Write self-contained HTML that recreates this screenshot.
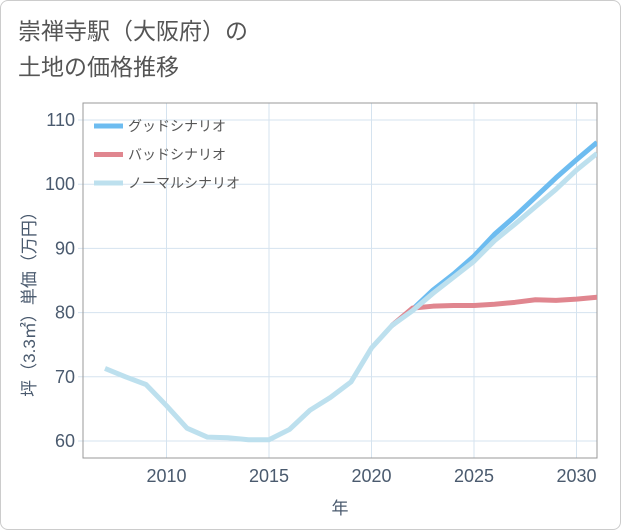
<!DOCTYPE html>
<html><head><meta charset="utf-8"><style>
body{margin:0;background:#fff;font-family:"Liberation Sans","Noto Sans CJK JP",sans-serif}
#card{position:absolute;left:0;top:0;width:619px;height:528px;border:1px solid #ccc;border-radius:8px;background:#fff}
#title{position:absolute;left:18px;top:13px;font-size:23px;line-height:36px;color:#555}
</style></head><body>
<div id="card"></div>
<div id="title">崇禅寺駅（大阪府）の<br>土地の価格推移</div>
<svg id="chart" width="621" height="530" style="position:absolute;left:0;top:0"></svg>
<script>
const years=[2007,2008,2009,2010,2011,2012,2013,2014,2015,2016,2017,2018,2019,2020,2021,2022,2023,2024,2025,2026,2027,2028,2029,2030,2031];
const normal=[71.3,70,68.8,65.5,62,60.6,60.5,60.2,60.2,61.8,64.8,66.8,69.2,74.5,78,80.3,83,85.5,88,91.2,93.8,96.5,99.2,102.2,104.8];
const goodYears=[2021,2022,2023,2024,2025,2026,2027,2028,2029,2030,2031];
const good=[78,80.5,83.5,86,88.8,92.2,95,98,101,103.8,106.5];
const bad=[78,80.7,81,81.1,81.1,81.3,81.6,82,81.9,82.1,82.4];
const xTicks=[2010,2015,2020,2025,2030];
const yTicks=[60,70,80,90,100,110];
const L=83,R=597,T=103,B=458;
const x=v=>166.5+(v-2010)*20.5;
const y=v=>441-(v-60)*6.42;
const svg=document.getElementById('chart');
const NS='http://www.w3.org/2000/svg';
function mk(t,a,p){const e=document.createElementNS(NS,t);for(const k in a)e.setAttribute(k,a[k]);(p||svg).appendChild(e);return e;}
xTicks.forEach(t=>{const l=mk('line',{x1:x(t),x2:x(t),y1:T,y2:B,stroke:'#d5e3ef'});

const tx=mk('text',{x:x(t),y:B+24,'text-anchor':'middle','font-size':18,fill:'#4a5a6e'});tx.textContent=t;
});
yTicks.forEach(t=>{const l=mk('line',{x1:L-5,x2:R,y1:y(t),y2:y(t),stroke:'#d5e3ef'});

const tx=mk('text',{x:L-8,y:y(t)+6,'text-anchor':'end','font-size':18,fill:'#4a5a6e'});tx.textContent=t;
});
const fr=mk('rect',{x:L,y:T,width:R-L,height:B-T,fill:'none',stroke:'#999'});

const cp=mk('clipPath',{id:'cp'});mk('rect',{x:L,y:T,width:R-L,height:B-T},cp);
const g=mk('g',{'clip-path':'url(#cp)'});
function line2(xs,vs,c,n){const p=mk('polyline',{points:xs.map((v,i)=>x(v)+','+y(vs[i])).join(' '),fill:'none',stroke:c,'stroke-width':5,'stroke-linejoin':'round'},g);
}
line2(goodYears,good,'#6dbcf0','good-scenario-line');
line2(goodYears,bad,'#e0868f','bad-scenario-line');
line2(years,normal,'#bde0ee','normal-scenario-line');
const leg=[['グッドシナリオ','#6dbcf0'],['バッドシナリオ','#e0868f'],['ノーマルシナリオ','#bde0ee']];
leg.forEach((d,i)=>{const yy=126+i*28.5;
const s=mk('line',{x1:94,x2:123,y1:yy,y2:yy,stroke:d[1],'stroke-width':5});

const t=mk('text',{x:128,y:yy+5,'font-size':14,fill:'#555'});t.textContent=d[0];
});
const xt=mk('text',{x:340,y:514,'text-anchor':'middle','font-size':17,fill:'#4a5a6e'});xt.textContent='年';

const yt=mk('text',{x:0,y:0,'text-anchor':'middle','font-size':17,fill:'#4a5a6e',transform:'translate(35,300) rotate(-90)'});yt.textContent='坪（3.3㎡）単価（万円）';

</script>
</body></html>
